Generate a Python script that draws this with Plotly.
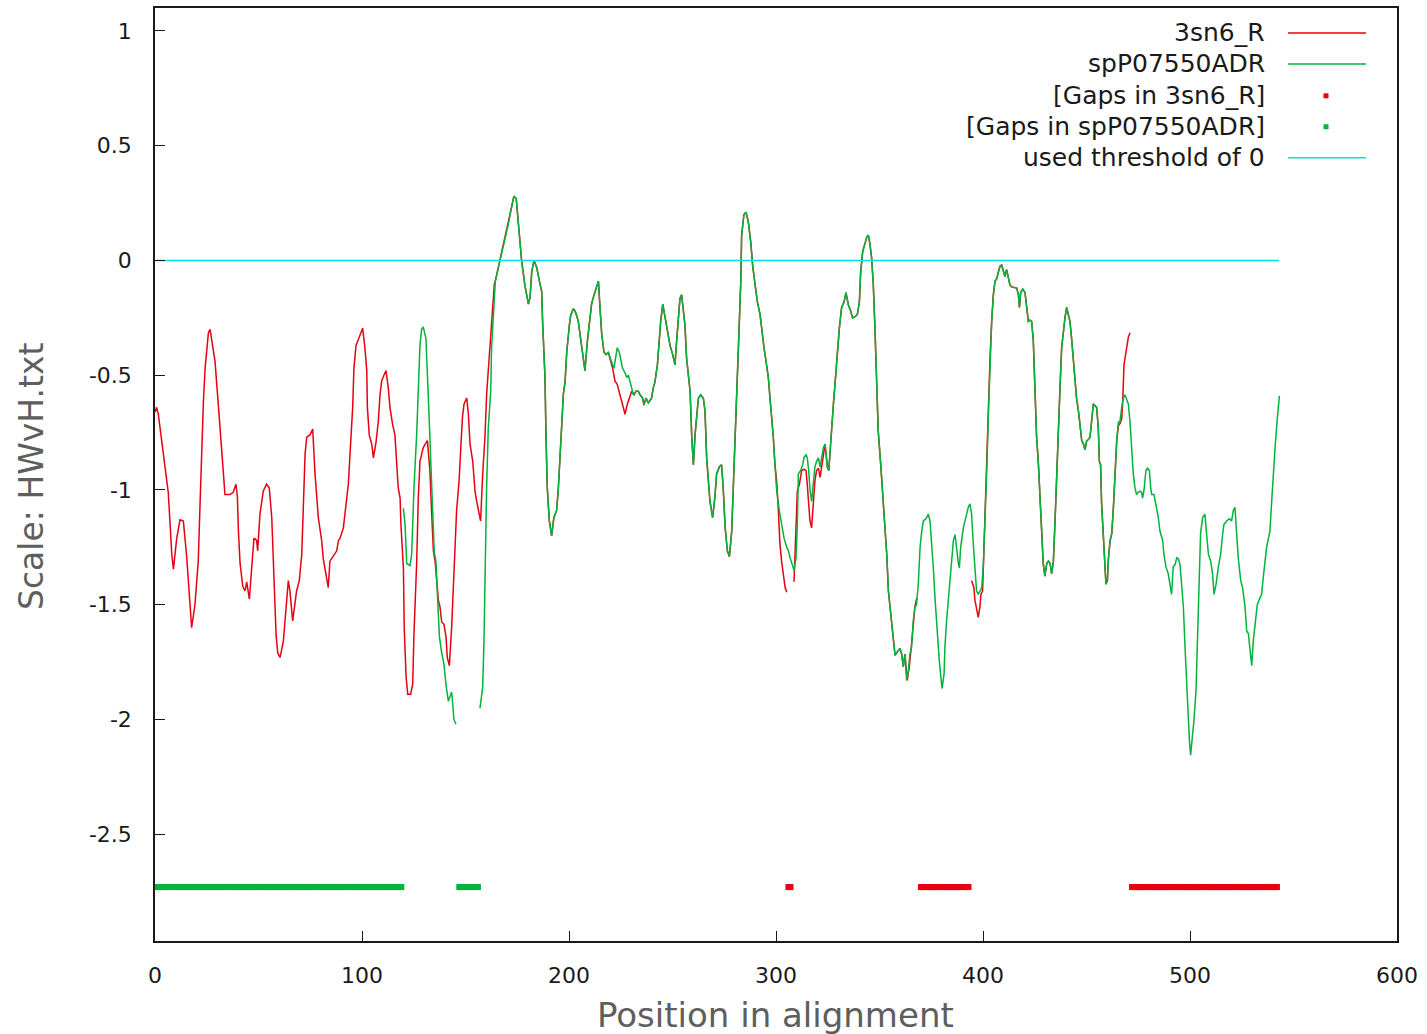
import plotly.graph_objects as go

# ---------------- data ----------------
# spP07550ADR profile (None marks its alignment gap)
green_pos = [120.0, 120.8, 121.6, 123.2, 124.0, 125.1, 126.4, 127.2, 128.0, 128.8, 129.6, 130.9, 131.6, 132.5, 133.2, 134.1, 134.9, 135.7, 136.4, 137.4, 138.5, 139.6, 140.6, 141.2, 141.7, 142.5, 143.3, 143.8, 144.4, 145.4,
             None,
             157.0, 158.3, 158.9, 159.4, 160.2, 161.0, 162.2, 162.6, 163.4, 163.9, 164.4, 165.4, 166.7, 167.5, 169.0, 170.5, 172.0, 173.4, 174.5, 175.5, 177.1, 178.7, 180.4, 181.2, 182.0, 183.1, 184.4, 185.7, 186.8, 187.3, 188.4, 188.9, 189.5, 190.5, 191.6, 192.7, 194.0, 194.8, 195.6, 196.5, 197.3, 198.1, 198.9, 200.2, 200.8, 202.1, 202.9, 203.7, 204.5, 205.3, 206.1, 206.9, 207.7, 208.9, 210.1, 210.9, 212.1, 213.0, 214.2, 215.0, 215.8, 216.9, 217.9, 219.0, 219.8,
             221.1, 221.7, 222.7, 223.3, 224.3, 225.0, 225.9, 227.1, 227.9, 228.7, 229.5, 230.3, 231.1, 232.4, 233.5, 234.3, 235.6, 236.2, 237.2, 238.3, 239.1, 239.9, 240.7, 241.5, 242.7, 243.6, 244.3, 245.3, 245.9, 247.2, 248.0, 248.8, 250.1, 251.2, 252.0, 252.8, 253.6, 254.4, 255.2, 256.0, 256.8, 258.5, 259.3, 260.1, 260.9, 262.5, 263.6, 264.9, 265.7, 266.5, 268.1, 269.4, 270.5, 271.3, 272.6, 273.7, 274.5, 275.4, 276.5,
             277.5, 278.6, 279.4, 280.2, 281.0, 281.8, 283.0, 283.4, 284.5, 285.5, 286.6, 287.8, 288.7, 289.9, 291.0, 292.3, 293.1, 294.2, 295.2, 296.3, 297.1, 297.9, 298.7, 299.5, 300.3, 301.6, 302.7, 303.9, 305.2, 306.0, 306.8, 307.6, 308.7, 309.7, 310.3, 310.8, 311.9, 312.9, 313.5, 314.5, 315.1, 315.8, 316.4, 317.2, 318.0, 318.8, 319.6, 320.5, 321.3, 322.1, 322.9,
             323.7, 324.2, 324.8, 325.5, 326.1, 326.9, 327.7, 328.5, 329.6, 330.6, 331.7, 332.9, 333.8, 335.0, 336.1, 337.0, 338.2, 339.3, 340.3, 340.9, 341.9, 343.0, 343.8, 344.6, 345.4, 346.2, 347.0, 347.8, 348.6, 349.4, 350.6, 351.5, 352.7, 353.5, 354.3, 355.1, 356.5, 357.5, 359.0, 359.9, 360.7, 361.5, 362.3,
             363.1, 363.9, 364.7, 365.5, 366.3, 367.1, 367.9, 368.8, 369.6, 370.4, 371.2, 372.5, 373.6, 374.4, 375.2, 376.0, 376.8, 377.9, 378.9, 379.5, 380.2, 381.2, 381.6, 382.4, 383.3, 384.1, 384.9, 385.7, 386.5, 387.3, 388.1, 388.6, 389.2, 390.5, 391.3, 392.1, 392.9, 393.7, 394.5, 395.3, 396.1, 396.9, 397.7, 398.5, 399.4,
             400.2, 401.0, 401.8, 402.6, 403.4, 404.2, 405.0, 405.8, 406.6, 407.4, 408.2, 409.0, 409.8, 410.6, 411.4, 412.2, 413.0, 413.8, 415.5, 416.3, 417.1, 417.6, 418.2, 419.2, 420.3, 421.1, 421.9, 422.7, 423.5, 424.3, 425.1, 425.9, 426.7, 427.5, 428.3, 429.1, 429.9, 430.8, 431.6, 432.4, 433.2, 434.0, 434.8, 435.6, 436.4, 437.2, 438.0, 438.8, 439.6, 440.4, 441.2, 442.0, 442.8, 443.6, 444.4, 445.2, 446.1, 446.9, 447.7, 448.5, 449.3, 450.1, 450.9, 451.7, 452.5, 453.3, 454.9, 455.7, 456.2, 456.8, 457.3, 458.1, 458.9, 459.4, 460.1, 460.5, 461.4, 462.2, 463.0, 463.8, 464.6,
             465.4, 466.2, 467.0, 467.8, 468.6, 469.4, 470.2, 471.0, 471.8, 472.6, 473.4, 474.2, 475.0, 475.8, 476.6, 477.1, 477.8, 478.7, 479.5, 480.4, 481.0, 481.5, 482.6, 483.3, 483.9, 484.7, 485.5, 486.8, 487.4, 488.4, 489.5, 490.3, 491.1, 491.9, 492.8, 493.6, 494.4, 495.2, 496.0, 496.8, 497.6, 498.7, 499.7, 500.3, 501.3, 501.9, 502.9, 503.5, 504.5, 505.1, 506.1, 507.2, 508.0, 508.9, 510.0, 510.9, 511.6, 512.6, 513.7, 514.8, 515.8, 516.4, 517.7, 519.0, 520.1, 520.9, 521.7, 522.5, 523.3, 524.5, 525.4, 526.6, 527.4, 528.2, 529.0, 529.8, 530.6, 531.9, 532.5, 533.8, 534.6, 535.4, 536.2, 537.0, 537.8, 538.6, 539.5, 540.3, 541.1, 542.2, 543.2]
green_val = [-1.08, -1.15, -1.32, -1.33, -1.28, -0.99, -0.76, -0.51, -0.37, -0.30, -0.29, -0.34, -0.47, -0.70, -0.87, -1.11, -1.27, -1.31, -1.48, -1.64, -1.71, -1.76, -1.85, -1.89, -1.92, -1.90, -1.88, -1.93, -2.00, -2.02,
             None,
             -1.95, -1.86, -1.67, -1.35, -0.99, -0.73, -0.57, -0.38, -0.25, -0.15, -0.09, -0.05, 0.0, 0.03, 0.10, 0.15, 0.22, 0.28, 0.27, 0.17, 0.0, -0.11, -0.19, -0.16, -0.05, 0.0, -0.03, -0.09, -0.135, -0.28, -0.51, -0.77, -0.99, -1.135, -1.20, -1.12, -1.09, -1.00, -0.845, -0.71, -0.58, -0.53, -0.40, -0.28, -0.24, -0.21, -0.22, -0.24, -0.265, -0.32, -0.38, -0.44, -0.48, -0.35, -0.25, -0.19, -0.15, -0.12, -0.09, -0.21, -0.32, -0.40, -0.41, -0.40, -0.425,
             -0.455, -0.47, -0.40, -0.38, -0.40, -0.425, -0.47, -0.49, -0.51, -0.50, -0.53, -0.555, -0.585, -0.57, -0.57, -0.585, -0.60, -0.63, -0.60, -0.62, -0.61, -0.60, -0.555, -0.53, -0.455, -0.34, -0.265, -0.19, -0.22, -0.28, -0.32, -0.37, -0.41, -0.455, -0.35, -0.25, -0.165, -0.15, -0.22, -0.28, -0.425, -0.57, -0.77, -0.89, -0.76, -0.60, -0.585, -0.60, -0.655, -0.86, -1.05, -1.12, -1.03, -0.93, -0.90, -0.89, -0.99, -1.16, -1.265,
             -1.29, -1.18, -0.99, -0.80, -0.61, -0.35, -0.09, 0.11, 0.20, 0.21, 0.17, 0.08, -0.02, -0.105, -0.18, -0.235, -0.31, -0.38, -0.44, -0.51, -0.60, -0.67, -0.77, -0.89, -1.00, -1.09, -1.15, -1.21, -1.25, -1.265, -1.295, -1.32, -1.35, -1.295, -1.15, -0.93, -0.915, -0.89, -0.86, -0.845, -0.86, -0.915, -1.00, -1.05, -0.96, -0.90, -0.875, -0.86, -0.90, -0.845, -0.815,
             -0.80, -0.845, -0.90, -0.915, -0.83, -0.715, -0.63, -0.54, -0.41, -0.295, -0.205, -0.18, -0.14, -0.195, -0.22, -0.25, -0.245, -0.235, -0.18, -0.05, 0.04, 0.08, 0.10, 0.11, 0.07, 0.01, -0.105, -0.295, -0.525, -0.745, -0.89, -1.00, -1.18, -1.28, -1.44, -1.51, -1.65, -1.72, -1.70, -1.69, -1.715, -1.77, -1.715,
             -1.83, -1.79, -1.715, -1.685, -1.57, -1.51, -1.50, -1.40, -1.25, -1.18, -1.135, -1.125, -1.105, -1.135, -1.22, -1.34, -1.47, -1.63, -1.745, -1.80, -1.865, -1.80, -1.685, -1.57, -1.48, -1.395, -1.31, -1.22, -1.195, -1.265, -1.32, -1.34, -1.25, -1.165, -1.135, -1.105, -1.075, -1.06, -1.105, -1.235, -1.34, -1.44, -1.455, -1.44, -1.425,
             -1.32, -1.135, -0.915, -0.67, -0.425, -0.265, -0.15, -0.09, -0.08, -0.05, -0.025, -0.02, -0.05, -0.07, -0.04, -0.08, -0.105, -0.115, -0.12, -0.12, -0.15, -0.205, -0.14, -0.125, -0.14, -0.195, -0.265, -0.26, -0.265, -0.35, -0.57, -0.77, -0.875, -1.02, -1.205, -1.32, -1.375, -1.32, -1.31, -1.32, -1.365, -1.31, -1.135, -0.915, -0.73, -0.555, -0.38, -0.31, -0.25, -0.205, -0.235, -0.265, -0.34, -0.425, -0.525, -0.60, -0.655, -0.73, -0.785, -0.80, -0.825, -0.785, -0.78, -0.77, -0.70, -0.625, -0.64, -0.73, -0.875, -0.89, -1.06, -1.22, -1.335, -1.41, -1.395, -1.31, -1.22, -1.19, -1.075, -0.905, -0.785,
             -0.705, -0.70, -0.64, -0.60, -0.585, -0.61, -0.625, -0.70, -0.815, -0.93, -0.99, -1.02, -1.01, -1.005, -1.01, -1.035, -1.00, -0.915, -0.905, -0.915, -0.99, -1.02, -1.02, -1.05, -1.09, -1.12, -1.18, -1.22, -1.28, -1.335, -1.365, -1.41, -1.455, -1.335, -1.325, -1.295, -1.30, -1.325, -1.41, -1.51, -1.685, -1.93, -2.09, -2.155, -2.075, -2.005, -1.875, -1.67, -1.41, -1.19, -1.12, -1.105, -1.19, -1.28, -1.31, -1.365, -1.455, -1.41, -1.335, -1.28, -1.19, -1.15, -1.135, -1.125, -1.135, -1.09, -1.075, -1.19, -1.295, -1.395, -1.425, -1.51, -1.615, -1.625, -1.70, -1.765, -1.655, -1.555, -1.50, -1.47, -1.455, -1.38, -1.31, -1.25, -1.215, -1.18, -1.045, -0.915, -0.815, -0.685, -0.59]

# 3sn6_R profile: its own stretches, plus the stretches where it runs
# exactly along the spP07550ADR curve (listed as position ranges)
red_head_pos = [0.0, 0.8, 1.6, 3.2, 4.8, 6.4, 7.3, 8.1, 8.9, 10.5, 12.1, 13.7, 15.3, 16.6, 17.7, 19.3, 20.9, 21.7, 22.5, 23.4, 24.2, 25.8, 26.6, 29.0, 30.6, 31.7, 33.0, 33.8, 36.2, 37.8, 39.1, 39.8, 40.3, 41.1, 42.4, 43.5, 44.3, 45.6, 46.7, 47.8, 49.1, 49.6, 50.7, 52.3, 53.9, 55.2, 56.4, 57.5, 58.5, 59.3, 60.4, 62.0, 63.3, 64.4, 65.2, 66.5, 68.4, 69.7, 70.9, 71.7, 72.5, 73.3, 74.9, 76.2, 77.3, 78.9, 80.5, 81.3, 82.6, 83.7, 84.5, 86.1, 87.8, 88.6, 89.4,
                91.0, 92.6, 93.4, 94.2, 95.5, 96.1, 97.1, 98.2, 99.4, 100.3, 101.4, 102.3, 102.6, 103.5, 104.7, 105.5, 106.8, 107.9, 108.7, 109.5, 110.6, 111.6, 112.7, 113.5, 114.8, 115.9, 116.7, 117.5, 118.4, 118.8, 120.0, 120.4, 121.3, 122.1, 123.5, 124.5, 125.1, 126.4, 127.2, 128.0, 128.8, 129.6, 130.9, 131.6, 132.0, 132.8, 133.6, 134.5, 135.3, 136.1, 136.9, 137.7, 138.5, 139.6, 140.6, 141.2, 142.2, 143.3, 144.1, 144.9, 145.7, 146.9, 147.7, 148.5, 149.3, 150.6, 151.4, 152.2, 153.5, 154.6, 155.4, 156.7, 157.3, 158.3, 159.4, 160.2, 161.0, 161.8, 162.6, 163.4, 163.9]
red_head_val = [-0.66, -0.64, -0.67, -0.79, -0.89, -1.01, -1.15, -1.28, -1.345, -1.21, -1.13, -1.135, -1.29, -1.48, -1.60, -1.50, -1.31, -1.08, -0.82, -0.61, -0.47, -0.315, -0.30, -0.44, -0.63, -0.76, -0.92, -1.02, -1.02, -1.01, -0.975, -1.03, -1.18, -1.32, -1.42, -1.44, -1.40, -1.475, -1.34, -1.21, -1.22, -1.265, -1.105, -1.005, -0.975, -0.99, -1.12, -1.38, -1.63, -1.71, -1.73, -1.66, -1.50, -1.395, -1.44, -1.57, -1.44, -1.395, -1.28, -1.03, -0.845, -0.77, -0.76, -0.735, -0.93, -1.12, -1.22, -1.30, -1.37, -1.425, -1.31, -1.29, -1.265, -1.22, -1.21,
                -1.165, -1.05, -0.975, -0.845, -0.64, -0.47, -0.37, -0.345, -0.32, -0.295, -0.38, -0.48, -0.64, -0.76, -0.80, -0.86, -0.79, -0.70, -0.585, -0.525, -0.50, -0.48, -0.555, -0.64, -0.715, -0.76, -0.875, -0.99, -1.035, -1.15, -1.34, -1.60, -1.815, -1.89, -1.89, -1.845, -1.63, -1.32, -1.035, -0.875, -0.845, -0.815, -0.795, -0.785, -0.83, -0.915, -1.09, -1.265, -1.31, -1.395, -1.48, -1.51, -1.575, -1.585, -1.64, -1.73, -1.765, -1.60, -1.44, -1.265, -1.09, -0.96, -0.83, -0.685, -0.625, -0.60, -0.67, -0.80, -0.875, -1.005, -1.05, -1.105, -1.135, -0.93, -0.77, -0.585, -0.47, -0.365, -0.25, -0.15, -0.105]
red_dev1_pos = [221.1, 222.2, 223.3, 224.6, 225.9, 227.1, 228.2, 229.1, 230.3, 231.4]
red_dev1_val = [-0.47, -0.525, -0.54, -0.585, -0.625, -0.67, -0.625, -0.60, -0.57, -0.585]
red_dev2_pos = [300.3, 301.1, 301.9, 302.7, 303.5, 304.4, 305.2]
red_dev2_val = [-0.96, -1.08, -1.235, -1.31, -1.365, -1.425, -1.445]
red_dev3_pos = [308.7, 309.2, 309.7, 310.3, 311.3, 312.4, 313.5, 314.5, 315.1, 315.6, 316.4, 317.2, 318.0, 318.8, 319.6, 320.5, 321.3, 322.1, 322.6]
red_dev3_val = [-1.40, -1.295, -1.15, -1.005, -0.975, -0.915, -0.91, -0.915, -0.975, -1.035, -1.135, -1.165, -1.075, -0.96, -0.915, -0.905, -0.945, -0.89, -0.88]
red_dev4_pos = [363.4, 364.4, 365.1, 365.5, 366.3, 367.1, 368.0]
red_dev4_val = [-1.83, -1.77, -1.685, -1.67, -1.59, -1.51, -1.47]
red_dev5_pos = [394.5, 395.6, 396.1, 396.9, 397.7, 398.5, 399.0, 399.8]
red_dev5_val = [-1.395, -1.425, -1.48, -1.525, -1.555, -1.51, -1.455, -1.44]
red_tail_pos = [465.4, 466.2, 467.0, 467.5, 468.1, 469.1, 470.2, 471.0]
red_tail_val = [-0.72, -0.71, -0.69, -0.615, -0.455, -0.39, -0.335, -0.315]
shared_ranges = [(164.4, 219.8), (232.4, 299.5), (323.7, 362.3), (400.2, 464.6)]

# alignment gap positions
red_gap_ranges = [(306, 307), (370, 393), (472, 542)]
green_gap_ranges = [(1, 119), (147, 156)]
gap_level = -2.73
threshold = 0.0
alignment_end = 543

# ---------------- assemble ----------------
def shared(lo, hi):
    xs, ys = [], []
    for x, y in zip(green_pos, green_val):
        if x is not None and lo <= x <= hi:
            xs.append(x); ys.append(y)
    return xs, ys

s = [shared(a, b) for a, b in shared_ranges]
red_x = (red_head_pos + s[0][0] + red_dev1_pos + s[1][0] + red_dev2_pos + [None]
         + red_dev3_pos + s[2][0] + red_dev4_pos + [None]
         + red_dev5_pos + s[3][0] + red_tail_pos)
red_y = (red_head_val + s[0][1] + red_dev1_val + s[1][1] + red_dev2_val + [None]
         + red_dev3_val + s[2][1] + red_dev4_val + [None]
         + red_dev5_val + s[3][1] + red_tail_val)

def expand(ranges):
    out = []
    for a, b in ranges:
        out.extend(range(a, b + 1))
    return out

red_gaps = expand(red_gap_ranges)
green_gaps = expand(green_gap_ranges)

RED = "#e60012"
GREEN = "#00b43c"
CYAN = "#00e0e0"
FONT = "DejaVu Sans"
INK = "#1a1a1a"

fig = go.Figure()
fig.add_trace(go.Scatter(x=red_x, y=red_y, mode="lines", line=dict(color=RED, width=1.5),
                         name="3sn6_R", connectgaps=False))
fig.add_trace(go.Scatter(x=green_pos, y=green_val, mode="lines", line=dict(color=GREEN, width=1.5),
                         name="spP07550ADR", connectgaps=False))
fig.add_trace(go.Scatter(x=red_gaps, y=[gap_level] * len(red_gaps), mode="markers",
                         marker=dict(symbol="square", size=6, color=RED, line=dict(width=0)),
                         name="[Gaps in 3sn6_R]"))
fig.add_trace(go.Scatter(x=green_gaps, y=[gap_level] * len(green_gaps), mode="markers",
                         marker=dict(symbol="square", size=6, color=GREEN, line=dict(width=0)),
                         name="[Gaps in spP07550ADR]"))
fig.add_trace(go.Scatter(x=[0, alignment_end], y=[threshold, threshold], mode="lines",
                         line=dict(color=CYAN, width=1.5), name="used threshold of 0"))

W, H = 1427, 1034
L, R, T, B = 155, 30, 6, 93
pw, ph = W - L - R, H - T - B

def px(xp):
    return (xp - L) / pw

def py(yp):
    return (H - B - yp) / ph

# custom gnuplot-style key (text right-aligned, sample on the right)
key = [("3sn6_R", "line", RED, 31), ("spP07550ADR", "line", GREEN, 62),
       ("[Gaps in 3sn6_R]", "dot", RED, 94), ("[Gaps in spP07550ADR]", "dot", GREEN, 125),
       ("used threshold of 0", "line", CYAN, 156)]
annotations = []
shapes = []
for text, kind, col, yp in key:
    annotations.append(dict(x=px(1267), y=py(yp), xref="paper", yref="paper", text=text,
                            showarrow=False, xanchor="right", yanchor="middle",
                            font=dict(family=FONT, size=25, color=INK)))
    if kind == "line":
        shapes.append(dict(type="line", xref="paper", yref="paper", x0=px(1288), x1=px(1366),
                           y0=py(yp), y1=py(yp), line=dict(color=col, width=1.5)))
    else:
        shapes.append(dict(type="rect", xref="paper", yref="paper", x0=px(1323.5), x1=px(1328.5),
                           y0=py(yp + 2.5), y1=py(yp - 2.5), line=dict(width=0), fillcolor=col))

annotations.append(dict(x=px(775), y=py(1015), xref="paper", yref="paper", text="Position in alignment",
                        showarrow=False, xanchor="center", yanchor="middle",
                        font=dict(family=FONT, size=34, color="#5e5e5e")))
annotations.append(dict(x=px(32), y=py(475), xref="paper", yref="paper", text="Scale: HWvH.txt",
                        showarrow=False, xanchor="center", yanchor="middle", textangle=-90,
                        font=dict(family=FONT, size=33, color="#5e5e5e")))

y_ticks = [-2.5, -2, -1.5, -1, -0.5, 0, 0.5, 1]
y_tick_text = ["-2.5", "-2", "-1.5", "-1", "-0.5", "0", "0.5", "1"]
x_ticks = [0, 100, 200, 300, 400, 500, 600]

fig.update_layout(
    width=W, height=H,
    margin=dict(l=L, r=R, t=T, b=B, pad=0),
    paper_bgcolor="white", plot_bgcolor="white",
    showlegend=False,
    annotations=annotations, shapes=shapes,
    font=dict(family=FONT, color=INK),
    xaxis=dict(range=[0, 600], tickvals=x_ticks, ticktext=[str(v) for v in x_ticks],
               ticks="inside", ticklen=10, tickwidth=1.3, tickcolor=INK,
               showline=True, linecolor=INK, linewidth=1.5, mirror=True,
               showgrid=False, zeroline=False, ticklabelstandoff=14,
               tickfont=dict(family=FONT, size=22, color=INK)),
    yaxis=dict(range=[-2.965, 1.1], tickvals=y_ticks, ticktext=y_tick_text,
               ticks="inside", ticklen=10, tickwidth=1.3, tickcolor=INK,
               showline=True, linecolor=INK, linewidth=1.5, mirror=True,
               showgrid=False, zeroline=False, ticklabelstandoff=17,
               tickfont=dict(family=FONT, size=22, color=INK)),
)

fig.write_html("out.html", config={"displayModeBar": False},
               post_script="document.body.style.margin='0';document.body.style.overflow='hidden';"
                           "document.documentElement.style.overflow='hidden';")
